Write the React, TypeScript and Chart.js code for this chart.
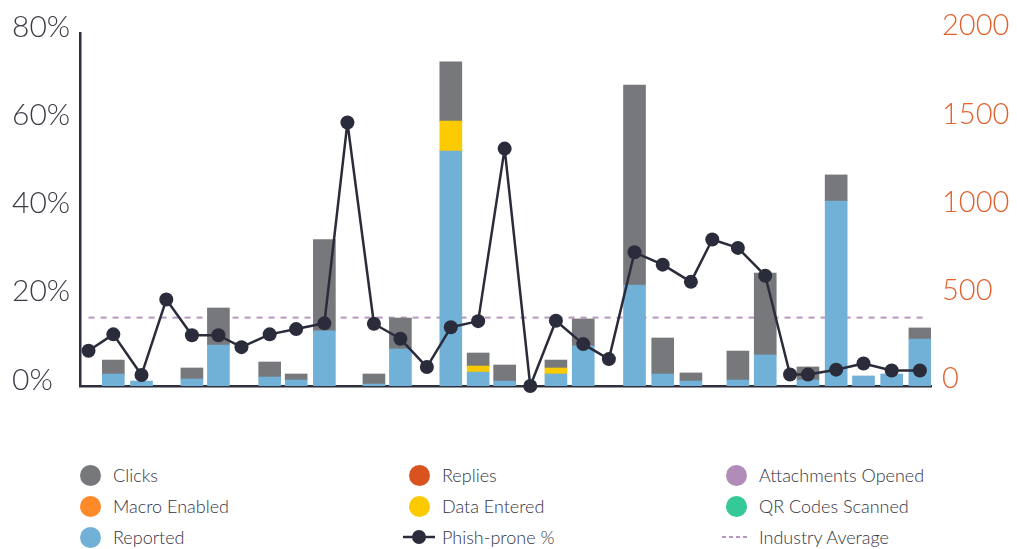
import React, { useEffect, useRef } from "react";
import { Chart, registerables } from "chart.js";

Chart.register(...registerables);

// Campaign dates as day offsets from the first period start
const campaignDay = [
  10, 39, 72, 101, 131, 162, 189, 222, 253, 286, 313, 344, 375, 406, 434, 466, 497,
  527, 557, 589, 619, 649, 682, 715, 740, 770, 802, 831, 852, 885, 917, 950, 983,
];

// Phish-prone percentage per campaign (left axis)
const phishPronePct = [
  8.0, 11.7, 2.5, 19.6, 11.5, 11.5, 8.8, 11.7, 12.9, 14.2, 59.7, 14.1, 10.7, 4.3, 13.3,
  14.7, 53.8, 0, 14.8, 9.5, 6.1, 30.3, 27.5, 23.6, 33.2, 31.3, 25.0, 2.6, 2.6, 3.7, 5.1,
  3.5, 3.5,
];

// Counts (right axis); null = nothing recorded
const reported = [
  null, 68, 28, null, 40, 232, null, 51, 34, 312, null, 11, 210, null, 1331, 79, 28,
  null, 68, 227, null, 572, 68, 28, null, 34, 176, null, 34, 1048, 57, 68, 266,
];
const dataEntered = [
  null, null, null, null, null, null, null, null, null, null, null, null, null, null, 170, 34, null,
  null, 34, null, null, null, null, null, null, null, null, null, null, null, null, null, null,
];
const clicks = [
  null, 79, null, null, 62, 210, null, 85, 34, 517, null, 57, 175, null, 335, 74, 91,
  null, 45, 153, null, 1133, 204, 46, null, 164, 464, null, 74, 148, null, null, 63,
];
const replies: (number | null)[] = campaignDay.map(() => null);
const attachmentsOpened: (number | null)[] = campaignDay.map(() => null);
const macroEnabled: (number | null)[] = campaignDay.map(() => null);
const qrCodesScanned: (number | null)[] = campaignDay.map(() => null);

const industryAverage = 15.5;

const leftTicks = [0, 20, 40, 60, 80];
const rightTicks = [0, 500, 1000, 1500, 2000];

const COLORS = {
  clicks: "#77787b",
  replies: "#d9531e",
  attachments: "#b18cb8",
  macro: "#ff8a2a",
  dataEntered: "#fcca00",
  qr: "#35c99a",
  reported: "#72b1d7",
  line: "#2b2c3b",
  industry: "#b996c2",
  axis: "#2e2f3d",
  leftText: "#3c3c48",
  rightText: "#e0622d",
  legendText: "#34343f",
};

const FONT = "Lato, 'Open Sans', sans-serif";

const legendItems: { label: string; kind: "dot" | "line" | "dash"; color: string }[] = [
  { label: "Clicks", kind: "dot", color: COLORS.clicks },
  { label: "Replies", kind: "dot", color: COLORS.replies },
  { label: "Attachments Opened", kind: "dot", color: COLORS.attachments },
  { label: "Macro Enabled", kind: "dot", color: COLORS.macro },
  { label: "Data Entered", kind: "dot", color: COLORS.dataEntered },
  { label: "QR Codes Scanned", kind: "dot", color: COLORS.qr },
  { label: "Reported", kind: "dot", color: COLORS.reported },
  { label: "Phish-prone %", kind: "line", color: COLORS.line },
  { label: "Industry Average", kind: "dash", color: COLORS.industry },
];

const legendColumnLeft = [74, 403, 720];
const legendRowCenter = [475, 506, 537];

function Marker({ kind, color }: { kind: string; color: string }) {
  if (kind === "dot") {
    return (
      <div style={{ width: 32, height: 22, display: "flex", alignItems: "center", justifyContent: "center" }}>
        <div style={{ width: 21, height: 21, borderRadius: "50%", background: color, flex: "none" }} />
      </div>
    );
  }
  if (kind === "line") {
    return (
      <svg width={32} height={22} style={{ display: "block" }}>
        <line x1={0} y1={11} x2={32} y2={11} stroke={color} strokeWidth={2.5} />
        <circle cx={16} cy={11} r={7} fill={color} />
      </svg>
    );
  }
  return (
    <svg width={32} height={22} style={{ display: "block" }}>
      <line x1={2} y1={11} x2={30} y2={11} stroke={color} strokeWidth={2} strokeDasharray="4 3" />
    </svg>
  );
}

const fixScale = (width: number) => (scale: any) => {
  scale.width = width;
  scale.paddingTop = 0;
  scale.paddingBottom = 0;
};

export default function App() {
  const canvasRef = useRef<HTMLCanvasElement | null>(null);

  useEffect(() => {
    const prevMargin = document.body.style.margin;
    document.body.style.margin = "0";
    document.body.style.overflow = "hidden";
    if (!canvasRef.current) return;
    const pts = (arr: (number | null)[]) => campaignDay.map((d, i) => ({ x: d, y: arr[i] }));
    const barBase = {
      type: "bar" as const,
      yAxisID: "y1",
      barThickness: 22,
      borderWidth: 0,
      order: 5,
    };
    const chart = new Chart(canvasRef.current, {
      type: "bar",
      data: {
        datasets: [
          {
            type: "line",
            label: "Phish-prone %",
            data: pts(phishPronePct),
            yAxisID: "y",
            borderColor: COLORS.line,
            borderWidth: 2.5,
            borderJoinStyle: "round",
            backgroundColor: COLORS.line,
            pointBackgroundColor: COLORS.line,
            pointBorderWidth: 0,
            pointRadius: 7,
            tension: 0,
            clip: false,
            order: 0,
          } as any,
          {
            type: "line",
            label: "Industry Average",
            data: [
              { x: campaignDay[0], y: industryAverage },
              { x: campaignDay[campaignDay.length - 1] + 8, y: industryAverage },
            ],
            yAxisID: "y",
            borderColor: COLORS.industry,
            borderWidth: 2,
            borderDash: [6, 6],
            pointRadius: 0,
            order: 10,
          } as any,
          { ...barBase, label: "Reported", data: pts(reported), backgroundColor: COLORS.reported },
          { ...barBase, label: "Data Entered", data: pts(dataEntered), backgroundColor: COLORS.dataEntered },
          { ...barBase, label: "Macro Enabled", data: pts(macroEnabled), backgroundColor: COLORS.macro },
          { ...barBase, label: "QR Codes Scanned", data: pts(qrCodesScanned), backgroundColor: COLORS.qr },
          { ...barBase, label: "Attachments Opened", data: pts(attachmentsOpened), backgroundColor: COLORS.attachments },
          { ...barBase, label: "Replies", data: pts(replies), backgroundColor: COLORS.replies },
          { ...barBase, label: "Clicks", data: pts(clicks), backgroundColor: COLORS.clicks },
        ],
      },
      options: {
        animation: false,
        responsive: true,
        maintainAspectRatio: false,
        events: [],
        layout: { autoPadding: false, padding: { top: 25, bottom: 22, left: 4, right: 0 } },
        plugins: { legend: { display: false }, tooltip: { enabled: false } },
        scales: {
          x: {
            type: "linear",
            min: 0,
            max: 996,
            offset: false,
            stacked: true,
            grid: { display: false, drawTicks: false },
            ticks: { display: false },
            border: { display: true, color: COLORS.axis, width: 2.5 },
          },
          y: {
            position: "left",
            min: 0,
            max: 80,
            afterBuildTicks: (scale: any) => {
              scale.ticks = leftTicks.map((v) => ({ value: v }));
            },
            afterFit: fixScale(68),
            grid: { display: false, drawTicks: false },
            border: { display: true, color: COLORS.axis, width: 2.5 },
            ticks: {
              crossAlign: "far",
              padding: 8,
              labelOffset: -6,
              color: COLORS.leftText,
              font: { family: FONT, size: 30, weight: "300" },
              callback: (v: any) => `${v}%`,
            },
          },
          y1: {
            position: "right",
            min: 0,
            max: 2000,
            stacked: true,
            afterBuildTicks: (scale: any) => {
              scale.ticks = rightTicks.map((v) => ({ value: v }));
            },
            afterFit: fixScale(78),
            grid: { display: false, drawTicks: false },
            border: { display: false },
            ticks: {
              crossAlign: "near",
              padding: 11,
              labelOffset: -7,
              color: COLORS.rightText,
              font: { family: FONT, size: 29, weight: "300" },
              callback: (v: any) => String(v),
            },
          },
        },
      } as any,
    });
    return () => {
      chart.destroy();
      document.body.style.margin = prevMargin;
    };
  }, []);

  return (
    <div style={{ position: "relative", width: 1017, height: 549, overflow: "hidden", fontFamily: FONT }}>
      <div style={{ position: "absolute", left: 8, top: 8, width: 1001, height: 400 }}>
        <canvas ref={canvasRef} />
      </div>
      {legendItems.map((it, i) => {
        const col = i % 3;
        const row = Math.floor(i / 3);
        return (
          <div
            key={it.label}
            style={{
              position: "absolute",
              left: legendColumnLeft[col],
              top: legendRowCenter[row] - 11,
              height: 22,
              display: "flex",
              alignItems: "center",
              gap: 7,
            }}
          >
            <Marker kind={it.kind} color={it.color} />
            <span style={{ fontSize: 18, fontWeight: 300, color: COLORS.legendText, whiteSpace: "nowrap", lineHeight: "22px" }}>
              {it.label}
            </span>
          </div>
        );
      })}
    </div>
  );
}
